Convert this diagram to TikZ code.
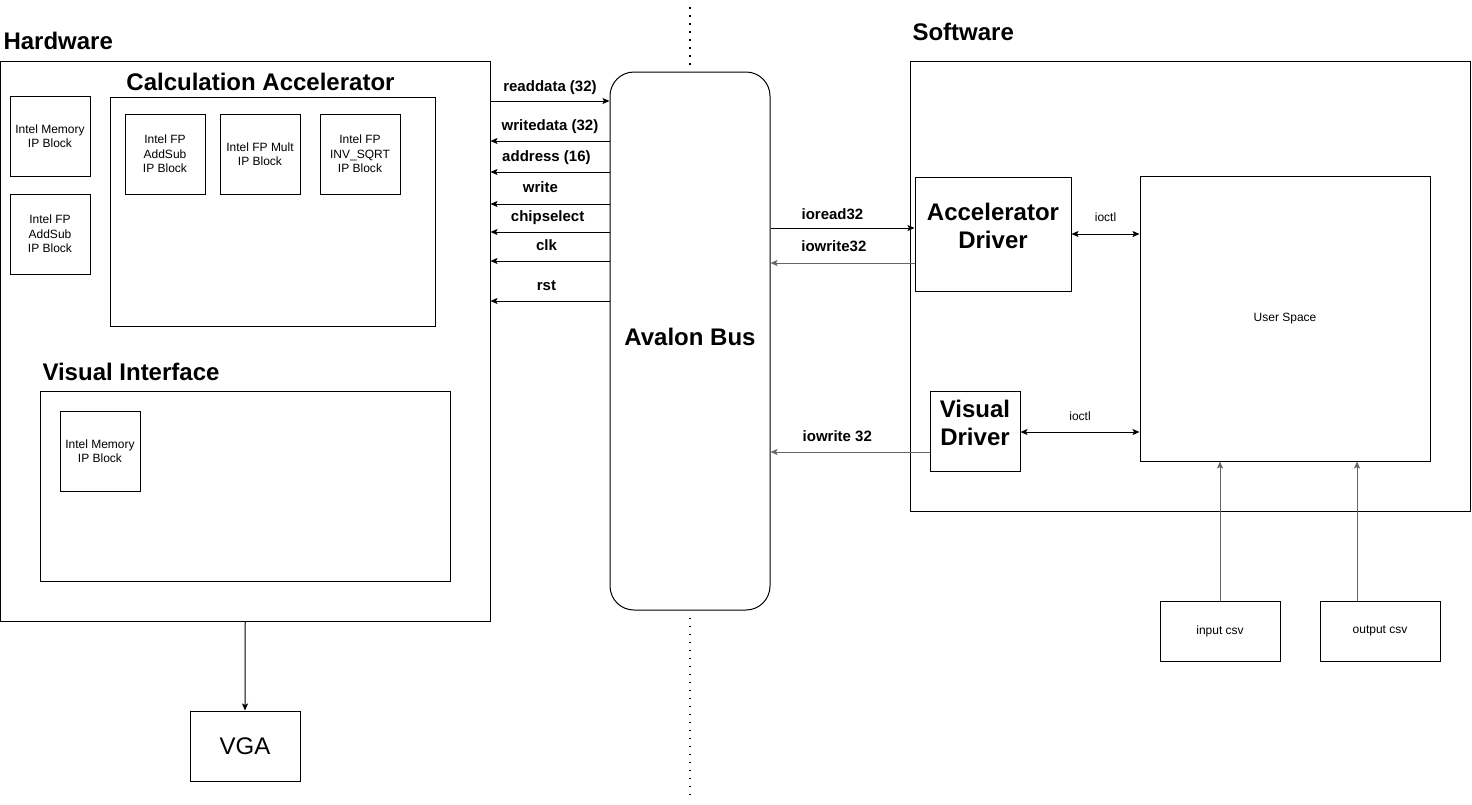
\documentclass[tikz,border=0pt]{standalone}
\usepackage{fontspec}
\setmainfont{Liberation Sans}
\usetikzlibrary{arrows.meta}
\usetikzlibrary{shapes, positioning, calc}

\begin{document}
\begin{tikzpicture}[x=1pt, y=-1pt, ->, >={Stealth[length=7pt, width=6pt, inset=1.5pt]},
  line width=1pt, align=center, inner sep=0pt,
  box node/.style={rectangle, draw},
  sq node/.style={rectangle, draw, minimum width=80pt, minimum height=80pt,
    font=\fontsize{12}{14.5}\selectfont},
  io node/.style={rectangle, draw, minimum width=120pt, minimum height=60pt,
    font=\fontsize{12}{14.5}\selectfont},
  title node/.style={anchor=base west, font=\fontsize{24}{28}\selectfont\bfseries},
  drv font/.style={font=\fontsize{24}{28}\selectfont\bfseries, align=center},
  sig/.style={anchor=base, yshift=11pt, font=\fontsize{15}{18}\selectfont\bfseries},
  call/.style={anchor=base, yshift=12.5pt, font=\fontsize{12}{14.5}\selectfont},
  faded/.style={draw=black!60},
  divider/.style={-, line width=1.6pt, dash pattern=on 1.6pt off 6.4pt}]
  \useasboundingbox (0,0) rectangle (1472,804);

  % hardware side
  \node[box node, minimum width=489.5pt, minimum height=560pt] (1) at (245.25,341) {};
  \node[box node, minimum width=325pt, minimum height=229pt] (2) at (272.5,211.5) {};
  \node[sq node] (3) at (50,136) {Intel Memory\\IP Block};
  \node[sq node, below=17pt of 3] (4) {Intel FP\\AddSub\\IP Block};
  \node[sq node] (5) at (165,154) {Intel FP\\AddSub\\IP Block};
  \node[sq node, right=14pt of 5] (6) {Intel FP Mult\\IP Block};
  \node[sq node, right=19pt of 6] (7) {Intel FP\\INV\_SQRT\\IP Block};
  \node[box node, minimum width=410pt, minimum height=190pt] (8) at (245,486) {};
  \node[sq node] (9) at (100,451) {Intel Memory\\IP Block};
  \node[box node, minimum width=110pt, minimum height=70pt,
    font=\fontsize{24}{28}\selectfont] (10) at (245,746) {VGA};
  \node[title node] (18) at (3,49) {Hardware};
  \node[title node, anchor=base] (19) at (260.5,90) {Calculation Accelerator};
  \node[title node] (20) at (42,380) {Visual Interface};

  % bus
  \node[box node, rounded corners=24pt, minimum width=160pt, minimum height=538pt,
    font=\fontsize{24}{28}\selectfont\bfseries, text depth=8pt] (11) at (690,341) {Avalon Bus};
  \draw[divider] (690,7) -- ([yshift=6pt]11.north);
  \draw[divider] (11.south) ++(0,7) -- (690,800);

  % software side
  \node[box node, minimum width=560pt, minimum height=450pt] (12) at (1190,286) {};
  \node[box node, minimum width=156pt, minimum height=114pt,
    label={[drv font, yshift=8.5pt]center:{Accelerator\\Driver}}] (13) at (993,234) {};
  \node[box node, minimum width=90pt, minimum height=80pt,
    label={[drv font, yshift=8.5pt]center:{Visual\\Driver}}] (14) at (975,431) {};
  \node[box node, minimum width=290pt, minimum height=285pt,
    font=\fontsize{12}{14.5}\selectfont] (15) at (1285,318.5) {User Space};
  \node[io node] (16) at (1220,631) {input csv};
  \node[io node, right=39pt of 16] (17) {output csv};
  \node[title node] (21) at (912,40) {Software};

  \path (1.east |- 0,101) edge node[sig, yshift=-1pt] {readdata (32)} (11.west |- 0,101)
    (11.west |- 0,141) edge node[sig] {writedata (32)} (1.east |- 0,141)
    (11.west |- 0,172) edge node[sig, pos=0.53] {address (16)} (1.east |- 0,172)
    (11.west |- 0,204) edge node[sig, pos=0.58, yshift=1pt] {write} (1.east |- 0,204)
    (11.west |- 0,232) edge node[sig, pos=0.52] {chipselect} (1.east |- 0,232)
    (11.west |- 0,261) edge node[sig, pos=0.53] {clk} (1.east |- 0,261)
    (11.west |- 0,301) edge node[sig, pos=0.53] {rst} (1.east |- 0,301);
  \path (11.east |- 0,228) edge node[sig, pos=0.43, yshift=-2pt] {ioread32} (13.west |- 0,228)
    (13.west |- 0,263) edge[faded] node[sig, pos=0.56, yshift=1pt] {iowrite32} (11.east |- 0,263)
    (14.west |- 0,452) edge[faded] node[sig, pos=0.58] {iowrite 32} (11.east |- 0,452)
    (13.east |- 0,234) edge[<->] node[call] {ioctl} (15.west |- 0,234)
    (14.east |- 0,432) edge[<->] node[call, yshift=-1pt] {ioctl} (15.west |- 0,432)
    (16.north) edge[faded] (16.north |- 15.south)
    ([xshift=-23pt]17.north) edge[faded] ([xshift=-23pt]17.north |- 15.south)
    (1.south) edge (10.north);
\end{tikzpicture}
\end{document}
